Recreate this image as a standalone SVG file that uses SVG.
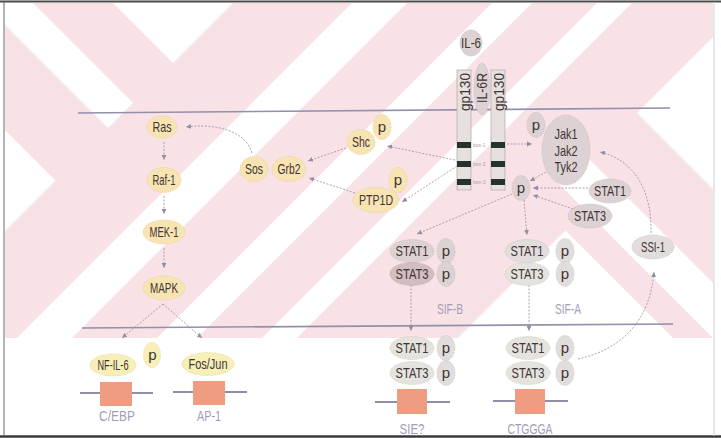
<svg xmlns="http://www.w3.org/2000/svg" width="721" height="438" viewBox="0 0 721 438">
<defs>
<style>
.t{font-family:"Liberation Sans",Arial,sans-serif;font-size:15px;fill:#403434;text-anchor:middle}
.s{font-family:"Liberation Sans",Arial,sans-serif;font-size:5px;fill:#a8a4a8;text-anchor:start}
.lbl{font-family:"Liberation Sans",Arial,sans-serif;font-size:15px;fill:#a29cbb;text-anchor:middle}
.y{fill:#f8e4b3;stroke:#e0cc92;stroke-width:0.8;stroke-dasharray:1 1}
.yw{fill:#f8efb8;stroke:#e0d092;stroke-width:0.8;stroke-dasharray:1 1}
.g{fill:#ddd2d3;stroke:#c2b6b7;stroke-width:0.8;stroke-dasharray:1 1}
.pk2{fill:#d3bdc0;stroke:#bba5a8;stroke-width:0.8;stroke-dasharray:1 1}
.lg{fill:#e4e3de;stroke:#c8c6c0;stroke-width:0.8;stroke-dasharray:1 1}
.gw{fill:#e2dddd;stroke:#c6bebe;stroke-width:0.8;stroke-dasharray:1 1}
.c{fill:none;stroke:#908ea2;stroke-width:0.8;stroke-dasharray:2 1.5;marker-end:url(#ah)}
.mem{stroke:#9290ab;stroke-width:1.6;fill:none}
.dna{stroke:#8f8da8;stroke-width:2}
.box{fill:#f09c80}
.bar{fill:#e6e0de;stroke:#b8afaf;stroke-width:0.8}
.band{fill:#26332c}
.w{fill:#ffffff}
</style>
<marker id="ah" markerWidth="6" markerHeight="6" refX="5" refY="3" orient="auto" markerUnits="userSpaceOnUse"><path d="M0,0.6 L5,3 L0,5.4z" fill="#908ea2"/></marker>
<clipPath id="pinkclip"><rect x="5" y="3" width="708" height="335"/></clipPath>
</defs>
<rect x="0" y="0" width="721" height="438" fill="#ffffff"/>
<g id="watermark" clip-path="url(#pinkclip)">
<rect x="0" y="0" width="721" height="338" fill="#f9e2e5"/>
<polygon class="w" points="55.5,180.5 -200,-75 -200,436"/>
<polygon class="w" points="-70,-50 -20,-50 133,103 108,128"/>
<polygon class="w" points="173,63 60,-50 286,-50"/>
<polygon class="w" points="405,-50 460,-50 -50,460 -50,405"/>
<polygon class="w" points="545,-50 585,-50 -50,585 -50,545"/>
<polygon class="w" points="650,-50 685,-50 -50,685 -50,650"/>
<polygon class="w" points="565.5,230.5 800,465 330,466"/>
<polygon class="w" points="552.5,177.5 580,150 900,470 900,525"/>
<polygon class="w" points="637,113 900,-150 900,376"/>
</g>
<g id="frame" fill="none">
<line x1="0" y1="1.5" x2="721" y2="1.5" stroke="#4a4a4a" stroke-width="2"/>
<line x1="0" y1="436.5" x2="721" y2="436.5" stroke="#3a3a3a" stroke-width="2.5"/>
<line x1="4" y1="2" x2="4" y2="436" stroke="#6a6a6a" stroke-width="1"/>
<line x1="714" y1="2" x2="714" y2="436" stroke="#cfcfcf" stroke-width="1"/>
</g>
<g id="membranes">
<line class="mem" x1="78" y1="113" x2="670" y2="108"/>
<line class="mem" x1="82" y1="328" x2="673" y2="324"/>
</g>
<g id="connectors">
<line class="c" x1="164" y1="142" x2="164" y2="160"/>
<line class="c" x1="164" y1="196" x2="164" y2="214"/>
<line class="c" x1="164" y1="248" x2="164" y2="268"/>
<line class="c" x1="163" y1="304" x2="122" y2="338"/>
<line class="c" x1="163" y1="304" x2="202" y2="338"/>
<path class="c" d="M252,153 C246,131 216,123 186,127"/>
<line class="c" x1="346" y1="148" x2="308" y2="161"/>
<line class="c" x1="355" y1="193" x2="309" y2="178"/>
<line class="c" x1="455" y1="160" x2="387" y2="146"/>
<line class="c" x1="457" y1="166" x2="402" y2="202"/>
<line class="c" x1="507" y1="144" x2="532" y2="144"/>
<line class="c" x1="546" y1="172" x2="530" y2="181"/>
<line class="c" x1="588" y1="188" x2="533" y2="188"/>
<line class="c" x1="573" y1="209" x2="533" y2="195"/>
<line class="c" x1="512" y1="194" x2="417" y2="234"/>
<line class="c" x1="524" y1="200" x2="527" y2="235"/>
<line class="c" x1="411" y1="285" x2="411" y2="331"/>
<line class="c" x1="529" y1="285" x2="529" y2="331"/>
<path class="c" d="M651,233 C652,190 634,160 600,152"/>
<path class="c" d="M578,359 C620,350 650,322 654,272"/>
</g>
<g id="IL-6"><ellipse class="g" cx="471" cy="43" rx="11" ry="13"/><text class="t" x="471" y="48" textLength="20" lengthAdjust="spacingAndGlyphs">IL-6</text></g>
<g id="gp130-left"><rect class="bar" x="457" y="70" width="14" height="120"/>
<rect class="band" x="457" y="142" width="14" height="6"/><rect class="band" x="457" y="161" width="14" height="6"/><rect class="band" x="457" y="179" width="14" height="6"/>
<text class="t" transform="translate(469.5,92) rotate(-90)" x="0" y="0" textLength="38" lengthAdjust="spacingAndGlyphs">gp130</text></g>
<g id="IL-6R"><ellipse class="g" cx="482" cy="89" rx="8" ry="26"/><text class="t" transform="translate(487,88) rotate(-90)" x="0" y="0" textLength="30" lengthAdjust="spacingAndGlyphs">IL-6R</text></g>
<g id="gp130-right"><rect class="bar" x="491" y="70" width="14" height="120"/>
<rect class="band" x="491" y="142" width="14" height="6"/><rect class="band" x="491" y="161" width="14" height="6"/><rect class="band" x="491" y="179" width="14" height="6"/>
<text class="t" transform="translate(503.5,92) rotate(-90)" x="0" y="0" textLength="38" lengthAdjust="spacingAndGlyphs">gp130</text></g>
<g id="box-labels"><text class="s" x="473" y="147">box-1</text><text class="s" x="473" y="166">box-2</text><text class="s" x="473" y="184">box-3</text></g>
<g id="p-jak"><ellipse class="g" cx="536" cy="125" rx="9" ry="12.5"/><text class="t" x="536" y="130">p</text></g>
<g id="Jak"><ellipse class="g" cx="566" cy="150" rx="24" ry="35"/>
<text class="t" x="566" y="139" textLength="23" lengthAdjust="spacingAndGlyphs">Jak1</text>
<text class="t" x="566" y="155.5" textLength="23" lengthAdjust="spacingAndGlyphs">Jak2</text>
<text class="t" x="566" y="172" textLength="23" lengthAdjust="spacingAndGlyphs">Tyk2</text></g>
<g id="p-rec"><ellipse class="g" cx="521" cy="188" rx="9" ry="12.5"/><text class="t" x="521" y="193">p</text></g>
<g id="STAT1-free"><ellipse class="g" cx="610" cy="191" rx="21" ry="12"/><text class="t" x="610" y="196" textLength="32" lengthAdjust="spacingAndGlyphs">STAT1</text></g>
<g id="STAT3-free"><ellipse class="g" cx="590" cy="216" rx="22" ry="12"/><text class="t" x="590" y="221" textLength="32" lengthAdjust="spacingAndGlyphs">STAT3</text></g>
<g id="SSI-1"><ellipse class="gw" cx="653" cy="247" rx="21" ry="12"/><text class="t" x="653" y="252" textLength="24" lengthAdjust="spacingAndGlyphs">SSI-1</text></g>
<g id="Ras"><ellipse class="y" cx="162" cy="127" rx="15" ry="11"/><text class="t" x="162" y="132" textLength="19" lengthAdjust="spacingAndGlyphs">Ras</text></g>
<g id="Raf-1"><ellipse class="y" cx="164" cy="180" rx="17" ry="12.5"/><text class="t" x="164" y="185" textLength="23" lengthAdjust="spacingAndGlyphs">Raf-1</text></g>
<g id="MEK-1"><ellipse class="y" cx="164" cy="232" rx="21" ry="12"/><text class="t" x="164" y="237" textLength="29" lengthAdjust="spacingAndGlyphs">MEK-1</text></g>
<g id="MAPK"><ellipse class="y" cx="164" cy="288" rx="21" ry="12"/><text class="t" x="164" y="293" textLength="28" lengthAdjust="spacingAndGlyphs">MAPK</text></g>
<g id="Sos"><ellipse class="y" cx="254" cy="169" rx="14" ry="12.5"/><text class="t" x="254" y="174" textLength="18" lengthAdjust="spacingAndGlyphs">Sos</text></g>
<g id="Grb2"><ellipse class="y" cx="289" cy="169" rx="17" ry="12.5"/><text class="t" x="289" y="174" textLength="23" lengthAdjust="spacingAndGlyphs">Grb2</text></g>
<g id="Shc"><ellipse class="y" cx="361" cy="142" rx="14" ry="12.5"/><text class="t" x="361" y="147" textLength="18" lengthAdjust="spacingAndGlyphs">Shc</text></g>
<g id="p-shc"><ellipse class="y" cx="382" cy="127" rx="9" ry="12.5"/><text class="t" x="382" y="132">p</text></g>
<g id="PTP1D"><ellipse class="y" cx="376" cy="200" rx="23" ry="12.5"/><text class="t" x="376" y="205" textLength="34" lengthAdjust="spacingAndGlyphs">PTP1D</text></g>
<g id="p-ptp"><ellipse class="y" cx="398" cy="180" rx="9" ry="12.5"/><text class="t" x="398" y="185">p</text></g>
<g id="SIF-B">
<ellipse class="g" cx="412" cy="251" rx="22" ry="11.5"/><text class="t" x="412" y="256" textLength="33" lengthAdjust="spacingAndGlyphs">STAT1</text>
<ellipse class="g" cx="446" cy="251" rx="9" ry="12.5"/><text class="t" x="446" y="256">p</text>
<ellipse class="pk2" cx="412" cy="274" rx="22" ry="11.5"/><text class="t" x="412" y="279" textLength="33" lengthAdjust="spacingAndGlyphs">STAT3</text>
<ellipse class="g" cx="446" cy="274" rx="9" ry="12.5"/><text class="t" x="446" y="279">p</text>
<text class="lbl" x="450" y="314" textLength="26" lengthAdjust="spacingAndGlyphs">SIF-B</text></g>
<g id="SIF-A">
<ellipse class="gw" cx="527" cy="251" rx="22" ry="11.5"/><text class="t" x="527" y="256" textLength="33" lengthAdjust="spacingAndGlyphs">STAT1</text>
<ellipse class="gw" cx="565" cy="251" rx="9" ry="12.5"/><text class="t" x="565" y="256">p</text>
<ellipse class="lg" cx="527" cy="274" rx="22" ry="11.5"/><text class="t" x="527" y="279" textLength="33" lengthAdjust="spacingAndGlyphs">STAT3</text>
<ellipse class="gw" cx="565" cy="274" rx="9" ry="12.5"/><text class="t" x="565" y="279">p</text>
<text class="lbl" x="568" y="314" textLength="26" lengthAdjust="spacingAndGlyphs">SIF-A</text></g>
<g id="NF-IL-6"><ellipse class="yw" cx="113" cy="365" rx="23" ry="11"/><text class="t" x="113" y="370" textLength="31" lengthAdjust="spacingAndGlyphs">NF-IL-6</text></g>
<g id="p-nfil6"><ellipse class="yw" cx="152" cy="355" rx="8.5" ry="12.5"/><text class="t" x="152.5" y="360">p</text></g>
<g id="Fos-Jun"><ellipse class="yw" cx="208" cy="364" rx="26" ry="11.5"/><text class="t" x="208" y="369" textLength="39" lengthAdjust="spacingAndGlyphs">Fos/Jun</text></g>
<g id="C-EBP"><line class="dna" x1="80" y1="393" x2="153" y2="393"/><rect class="box" x="100" y="382" width="32" height="24"/><text class="lbl" x="117" y="421" textLength="36" lengthAdjust="spacingAndGlyphs">C/EBP</text></g>
<g id="AP-1"><line class="dna" x1="173" y1="392" x2="247" y2="392"/><rect class="box" x="193" y="381" width="32" height="24"/><text class="lbl" x="209" y="421" textLength="24" lengthAdjust="spacingAndGlyphs">AP-1</text></g>
<g id="SIE">
<ellipse class="lg" cx="412" cy="348" rx="22" ry="11.5"/><text class="t" x="412" y="353" textLength="33" lengthAdjust="spacingAndGlyphs">STAT1</text>
<ellipse class="gw" cx="446" cy="348" rx="9" ry="12.5"/><text class="t" x="446" y="353">p</text>
<ellipse class="lg" cx="412" cy="373" rx="22" ry="11.5"/><text class="t" x="412" y="378" textLength="33" lengthAdjust="spacingAndGlyphs">STAT3</text>
<ellipse class="gw" cx="446" cy="373" rx="9" ry="12.5"/><text class="t" x="446" y="378">p</text>
<line class="dna" x1="375" y1="402" x2="450" y2="402"/><rect class="box" x="397" y="389" width="30" height="25"/>
<text class="lbl" x="412" y="434" textLength="25" lengthAdjust="spacingAndGlyphs">SIE?</text></g>
<g id="CTGGGA">
<ellipse class="lg" cx="528" cy="348" rx="22" ry="11.5"/><text class="t" x="528" y="353" textLength="33" lengthAdjust="spacingAndGlyphs">STAT1</text>
<ellipse class="gw" cx="565" cy="348" rx="9" ry="12.5"/><text class="t" x="565" y="353">p</text>
<ellipse class="lg" cx="528" cy="373" rx="22" ry="11.5"/><text class="t" x="528" y="378" textLength="33" lengthAdjust="spacingAndGlyphs">STAT3</text>
<ellipse class="gw" cx="565" cy="373" rx="9" ry="12.5"/><text class="t" x="565" y="378">p</text>
<line class="dna" x1="493" y1="401" x2="568" y2="401"/><rect class="box" x="515" y="389" width="30" height="25"/>
<text class="lbl" x="530" y="434" textLength="45" lengthAdjust="spacingAndGlyphs">CTGGGA</text></g>
</svg>
